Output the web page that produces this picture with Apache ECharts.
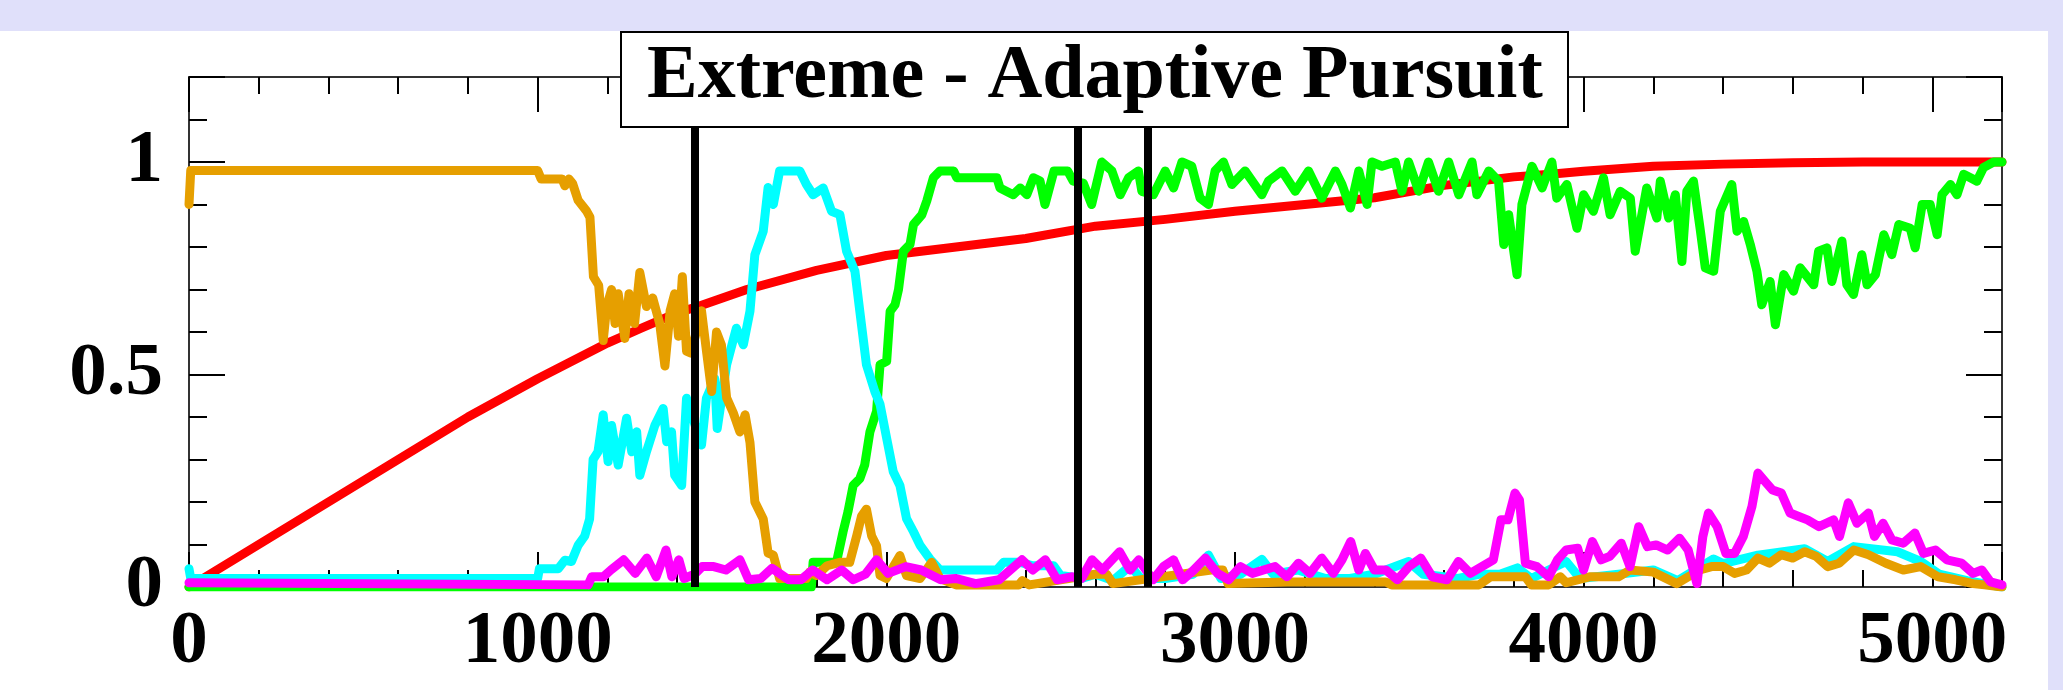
<!DOCTYPE html>
<html>
<head>
<meta charset="utf-8">
<script src="https://cdn.jsdelivr.net/npm/echarts@6/dist/echarts.min.js"></script>
<style>
  html, body { margin: 0; padding: 0; background: #ffffff; }
  #chart { width: 2063px; height: 690px; }
</style>
</head>
<body>
<div id="chart"></div>
<script>
// [step, probability] pairs
const redPts = [[0,0],[200,0.10],[400,0.20],[600,0.30],[800,0.40],[1000,0.49],[1200,0.574],[1300,0.61],[1400,0.645],[1460,0.66],[1600,0.70],[1800,0.745],[2000,0.78],[2200,0.80],[2400,0.82],[2600,0.849],[2800,0.865],[3000,0.884],[3200,0.90],[3400,0.916],[3600,0.945],[3800,0.965],[3904,0.971],[4000,0.978],[4200,0.99],[4400,0.995],[4600,0.998],[4800,1.0],[5000,1.0],[5200,1.0]]

const greenPts = [[0,0],[1785,0],[1790,0.058],[1857,0.058],[1876,0.13],[1890,0.177],[1905,0.239],[1924,0.255],[1938,0.287],[1953,0.365],[1972,0.413],[1982,0.523],[2001,0.531],[2011,0.649],[2025,0.664],[2035,0.70],[2049,0.79],[2068,0.806],[2078,0.853],[2102,0.876],[2116,0.908],[2135,0.963],[2154,0.979],[2193,0.979],[2202,0.963],[2317,0.963],[2326,0.939],[2364,0.923],[2384,0.939],[2403,0.923],[2422,0.963],[2441,0.955],[2455,0.90],[2481,0.979],[2520,0.979],[2536,0.955],[2565,0.95],[2589,0.90],[2618,1.0],[2647,0.979],[2671,0.923],[2695,0.963],[2723,0.979],[2733,0.931],[2766,0.923],[2800,0.979],[2824,0.939],[2848,1.0],[2876,0.99],[2900,0.915],[2924,0.90],[2943,0.979],[2967,1.0],[2991,0.947],[3029,0.979],[3077,0.923],[3096,0.955],[3135,0.979],[3173,0.931],[3211,0.979],[3249,0.915],[3288,0.979],[3307,0.947],[3331,0.892],[3355,0.979],[3379,0.90],[3393,1.0],[3422,0.99],[3460,1.0],[3479,0.931],[3498,1.0],[3527,0.931],[3555,1.0],[3584,0.931],[3613,1.0],[3642,0.923],[3680,1.0],[3694,0.923],[3728,0.979],[3756,0.955],[3771,0.806],[3785,0.876],[3809,0.735],[3823,0.90],[3852,0.99],[3881,0.939],[3909,1.0],[3923,0.915],[3952,0.947],[3981,0.844],[4000,0.923],[4028,0.884],[4057,0.963],[4076,0.876],[4105,0.931],[4134,0.915],[4148,0.79],[4181,0.939],[4210,0.868],[4220,0.955],[4244,0.868],[4263,0.923],[4282,0.766],[4296,0.931],[4315,0.955],[4334,0.844],[4349,0.751],[4373,0.743],[4392,0.884],[4425,0.947],[4440,0.837],[4459,0.86],[4478,0.806],[4497,0.743],[4511,0.664],[4535,0.719],[4550,0.617],[4574,0.735],[4602,0.696],[4621,0.751],[4660,0.711],[4674,0.79],[4698,0.798],[4712,0.719],[4741,0.814],[4755,0.711],[4774,0.688],[4798,0.782],[4813,0.711],[4837,0.735],[4861,0.829],[4884,0.782],[4904,0.853],[4937,0.844],[4951,0.798],[4971,0.90],[4994,0.90],[5014,0.829],[5028,0.923],[5052,0.947],[5071,0.923],[5090,0.971],[5128,0.955],[5147,0.987],[5176,1.0],[5200,1.0]]

const cyanPts = [[0,0.043],[5,0.02],[1000,0.02],[1005,0.043],[1059,0.043],[1078,0.063],[1097,0.06],[1116,0.098],[1135,0.12],[1149,0.16],[1159,0.30],[1173,0.318],[1188,0.405],[1202,0.295],[1212,0.38],[1231,0.287],[1255,0.397],[1270,0.318],[1284,0.365],[1293,0.263],[1312,0.318],[1336,0.38],[1360,0.42],[1370,0.342],[1384,0.365],[1393,0.263],[1413,0.239],[1427,0.444],[1470,0.334],[1484,0.444],[1508,0.49],[1515,0.373],[1542,0.523],[1570,0.609],[1590,0.57],[1609,0.649],[1623,0.782],[1647,0.837],[1661,0.94],[1676,0.90],[1694,0.979],[1752,0.979],[1771,0.947],[1790,0.923],[1819,0.939],[1843,0.884],[1867,0.876],[1886,0.79],[1910,0.743],[1924,0.649],[1943,0.523],[1967,0.46],[1982,0.43],[2001,0.35],[2020,0.271],[2039,0.239],[2058,0.161],[2078,0.13],[2097,0.098],[2125,0.066],[2154,0.04],[2317,0.04],[2336,0.058],[2384,0.058],[2420,0.05],[2480,0.05],[2500,0.027],[2560,0.02],[2600,0.03],[2650,0.015],[2700,0.05],[2730,0.02],[2800,0.02],[2880,0.03],[2924,0.075],[2960,0.02],[3016,0.03],[3077,0.065],[3110,0.03],[3180,0.04],[3260,0.02],[3330,0.02],[3400,0.03],[3498,0.06],[3540,0.03],[3640,0.02],[3700,0.03],[3760,0.03],[3810,0.045],[3850,0.02],[3950,0.06],[3990,0.02],[4100,0.03],[4200,0.04],[4270,0.015],[4373,0.066],[4400,0.055],[4500,0.075],[4634,0.09],[4700,0.06],[4775,0.095],[4900,0.083],[4967,0.06],[5020,0.03],[5100,0.015],[5200,0]]

const orangePts = [[0,0.90],[5,0.98],[1000,0.98],[1010,0.96],[1070,0.96],[1078,0.944],[1090,0.96],[1100,0.95],[1116,0.91],[1140,0.885],[1150,0.87],[1160,0.73],[1175,0.71],[1188,0.58],[1198,0.66],[1212,0.70],[1222,0.62],[1231,0.69],[1250,0.585],[1262,0.69],[1278,0.62],[1293,0.74],[1312,0.66],[1330,0.68],[1350,0.62],[1365,0.52],[1380,0.65],[1393,0.69],[1404,0.59],[1415,0.73],[1427,0.555],[1440,0.55],[1470,0.65],[1485,0.55],[1499,0.46],[1513,0.60],[1527,0.57],[1542,0.445],[1561,0.41],[1580,0.365],[1595,0.405],[1609,0.34],[1623,0.20],[1647,0.16],[1661,0.08],[1676,0.075],[1694,0.02],[1771,0.02],[1780,0.035],[1800,0.027],[1830,0.05],[1867,0.058],[1895,0.058],[1915,0.12],[1929,0.167],[1943,0.183],[1958,0.12],[1972,0.097],[1982,0.027],[2000,0.02],[2039,0.074],[2058,0.027],[2097,0.02],[2130,0.058],[2154,0.02],[2200,0.005],[2380,0.005],[2390,0.015],[2410,0.005],[2599,0.03],[2632,0.03],[2650,0.008],[2932,0.04],[2965,0.04],[2980,0.008],[3150,0.012],[3433,0.012],[3450,0.005],[3700,0.005],[3733,0.024],[3833,0.024],[3850,0.005],[3900,0.005],[3933,0.024],[3950,0.01],[4017,0.024],[4100,0.024],[4133,0.04],[4200,0.035],[4267,0.008],[4333,0.04],[4367,0.048],[4400,0.048],[4433,0.032],[4467,0.04],[4500,0.068],[4533,0.056],[4567,0.076],[4600,0.068],[4634,0.083],[4667,0.072],[4700,0.048],[4733,0.056],[4775,0.087],[4817,0.076],[4867,0.056],[4917,0.04],[4967,0.048],[5017,0.024],[5067,0.017],[5117,0.008],[5150,0.005],[5200,0]]

const magentaPts = [[0,0.01],[1145,0.005],[1155,0.024],[1188,0.024],[1210,0.04],[1247,0.064],[1280,0.032],[1313,0.068],[1340,0.024],[1368,0.087],[1385,0.024],[1405,0.064],[1420,0.02],[1450,0.03],[1472,0.048],[1505,0.048],[1540,0.04],[1580,0.064],[1605,0.017],[1640,0.02],[1672,0.044],[1720,0.017],[1755,0.017],[1789,0.04],[1830,0.017],[1872,0.04],[1905,0.017],[1940,0.03],[1972,0.064],[2005,0.032],[2056,0.048],[2100,0.04],[2156,0.017],[2200,0.02],[2256,0.008],[2323,0.017],[2389,0.064],[2420,0.04],[2456,0.064],[2490,0.017],[2531,0.024],[2560,0.02],[2590,0.064],[2620,0.04],[2669,0.083],[2699,0.04],[2724,0.064],[2765,0.017],[2795,0.048],[2824,0.064],[2850,0.017],[2882,0.04],[2915,0.068],[2950,0.032],[2982,0.017],[3016,0.048],[3050,0.032],[3082,0.04],[3115,0.048],[3149,0.024],[3182,0.056],[3215,0.032],[3249,0.068],[3282,0.032],[3307,0.064],[3332,0.107],[3355,0.04],[3374,0.079],[3400,0.04],[3433,0.04],[3466,0.017],[3499,0.048],[3533,0.068],[3566,0.024],[3608,0.017],[3641,0.06],[3675,0.032],[3708,0.048],[3741,0.064],[3763,0.158],[3783,0.158],[3803,0.221],[3816,0.205],[3833,0.056],[3866,0.048],[3900,0.024],[3925,0.064],[3950,0.087],[3983,0.091],[4000,0.04],[4025,0.107],[4050,0.064],[4075,0.072],[4108,0.103],[4133,0.048],[4158,0.142],[4183,0.095],[4208,0.099],[4241,0.087],[4275,0.115],[4300,0.087],[4325,0.008],[4342,0.119],[4358,0.174],[4383,0.142],[4408,0.079],[4433,0.079],[4458,0.119],[4483,0.19],[4500,0.268],[4525,0.244],[4542,0.228],[4567,0.221],[4592,0.174],[4617,0.166],[4642,0.158],[4675,0.142],[4717,0.158],[4734,0.119],[4759,0.198],[4784,0.15],[4817,0.174],[4834,0.119],[4859,0.15],[4884,0.111],[4917,0.103],[4950,0.127],[4975,0.079],[5009,0.087],[5042,0.064],[5084,0.056],[5117,0.032],[5142,0.04],[5167,0.012],[5200,0.005]]

// vertical black markers
const switchPoints = [1450, 2550, 2750]

const titleText = 'Extreme - Adaptive Pursuit'
const serif = 'Liberation Serif'
const frameColor = '#333'

function curve(data, color) {
  return {
    type: 'line',
    data: data,
    showSymbol: false,
    smooth: false,
    silent: true,
    lineStyle: { color: color, width: 9, cap: 'round', join: 'round' }
  }
}

function xAxisOpt(pos, showLabel) {
  return {
    type: 'value',
    position: pos,
    min: 0,
    max: 5200,
    interval: 1000,
    axisLine: { show: true, onZero: false, lineStyle: { color: frameColor, width: 2 } },
    axisTick: { show: true, inside: true, length: 35, lineStyle: { color: '#000', width: 2 } },
    minorTick: { show: true, splitNumber: 5, length: 17, lineStyle: { color: '#000', width: 2 } },
    splitLine: { show: false },
    axisLabel: {
      show: showLabel,
      margin: 18,
      fontFamily: serif,
      fontWeight: 'bold',
      fontSize: 75,
      color: '#000',
      formatter: v => (v % 1000 === 0 ? String(v) : '')
    }
  }
}

function yAxisOpt(pos, showLabel) {
  return {
    type: 'value',
    position: pos,
    min: 0,
    max: 1.2,
    interval: 0.5,
    axisLine: { show: true, onZero: false, lineStyle: { color: frameColor, width: 2 } },
    axisTick: { show: true, inside: true, length: 36, lineStyle: { color: '#000', width: 2 } },
    minorTick: { show: true, splitNumber: 5, length: 18, lineStyle: { color: '#000', width: 2 } },
    splitLine: { show: false },
    axisLabel: {
      show: showLabel,
      margin: 26,
      fontFamily: serif,
      fontWeight: 'bold',
      fontSize: 75,
      color: '#000',
      formatter: v => (v <= 1 && Math.abs(v * 2 - Math.round(v * 2)) < 1e-6 ? String(Math.round(v * 10) / 10) : '')
    }
  }
}

const chart = echarts.init(document.getElementById('chart'))
const magentaSeries = curve(magentaPts, '#ff00ff')
magentaSeries.markLine = {
  silent: true,
  symbol: ['none', 'none'],
  label: { show: false },
  lineStyle: { color: '#000', width: 8, type: 'solid' },
  emphasis: { disabled: true },
  data: switchPoints.map(x => ({ xAxis: x }))
}

chart.setOption({
  animation: false,
  backgroundColor: '#ffffff',
  title: {
    text: titleText,
    left: 621,
    top: 32,
    padding: [6, 26, 11, 26],
    backgroundColor: '#ffffff',
    borderColor: '#000',
    borderWidth: 2,
    textStyle: {
      fontFamily: serif,
      fontWeight: 'bold',
      fontSize: 76,
      lineHeight: 78,
      color: '#000'
    }
  },
  graphic: [
    { type: 'rect', shape: { x: 0, y: 0, width: 2063, height: 31 }, style: { fill: '#e0e0fa' }, silent: true },
    { type: 'rect', shape: { x: 2048, y: 0, width: 15, height: 690 }, style: { fill: '#e0e0fa' }, silent: true }
  ],
  grid: { left: 189, right: 61, top: 77, bottom: 103 },
  xAxis: [xAxisOpt('bottom', true), xAxisOpt('top', false)],
  yAxis: [yAxisOpt('left', true), yAxisOpt('right', false)],
  series: [
    curve(redPts, '#ff0000'),
    curve(greenPts, '#00ff00'),
    curve(cyanPts, '#00ffff'),
    curve(orangePts, '#e69f00'),
    magentaSeries
  ]
})
</script>
</body>
</html>
